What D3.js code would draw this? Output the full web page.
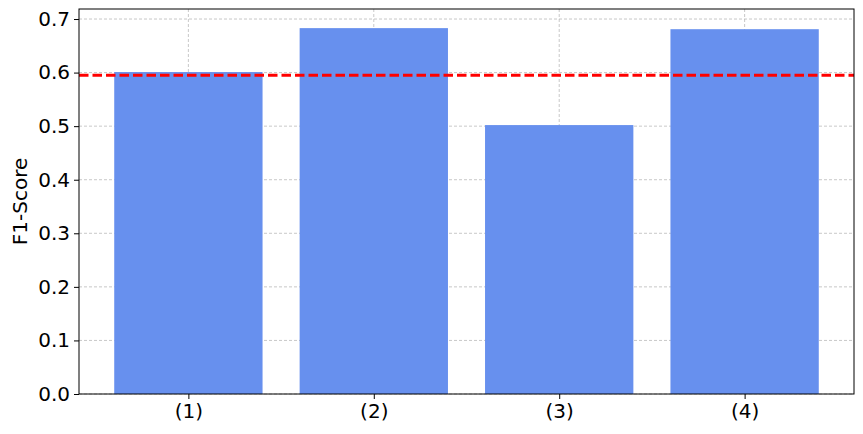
<!DOCTYPE html>
<html>
<head>
<meta charset="utf-8">
<script src="https://cdn.jsdelivr.net/npm/d3@7"></script>
<style>
  body { margin: 0; background: #fff; }
  svg { display: block; font-family: "DejaVu Sans", sans-serif; }
  svg text { font-size: 20px; fill: #000; font-family: "DejaVu Sans", sans-serif; }
</style>
</head>
<body>
<svg id="chart"></svg>
<script>
let categories = ["(1)", "(2)", "(3)", "(4)"];
let scores = [0.601, 0.683, 0.502, 0.681];
let baseline = 0.595;
let yTicks = [0.0, 0.1, 0.2, 0.3, 0.4, 0.5, 0.6, 0.7];

let width = 863;
let height = 434;
let margin = { top: 9, bottom: 40, left: 79, right: 9 };

let svg = d3.select("#chart")
    .attr("width", width)
    .attr("height", height);

// index-based x so bars sit like matplotlib's (width 0.8, 5% margins)
let xScale = d3.scaleLinear()
    .domain([-0.59, 3.59])
    .range([margin.left, width - margin.right]);
let yScale = d3.scaleLinear()
    .domain([0, 0.7187])
    .range([height - margin.bottom, margin.top]);

let barColor = "#6790ee";

// grid behind the bars
let grid = svg.append("g");
grid.selectAll(".hgrid").data(yTicks)
    .enter().append("line")
    .attr("x1", margin.left)
    .attr("x2", width - margin.right)
    .attr("y1", d => yScale(d))
    .attr("y2", d => yScale(d))
    .attr("stroke", "#b0b0b0")
    .attr("stroke-width", 0.7)
    .attr("stroke-dasharray", "3,2");
grid.selectAll(".vgrid").data(categories)
    .enter().append("line")
    .attr("x1", (d, i) => xScale(i))
    .attr("x2", (d, i) => xScale(i))
    .attr("y1", margin.top)
    .attr("y2", height - margin.bottom)
    .attr("stroke", "#b0b0b0")
    .attr("stroke-width", 0.7)
    .attr("stroke-dasharray", "3,2");

svg.append("g").selectAll("rect")
    .data(scores)
    .enter().append("rect")
    .attr("x", (d, i) => xScale(i - 0.4))
    .attr("width", xScale(0.4) - xScale(-0.4))
    .attr("y", d => yScale(d))
    .attr("height", d => yScale(0) - yScale(d))
    .attr("fill", barColor);

// reference line
svg.append("line")
    .attr("x1", margin.left)
    .attr("x2", width - margin.right)
    .attr("y1", yScale(baseline))
    .attr("y2", yScale(baseline))
    .attr("stroke", "red")
    .attr("stroke-width", 2.8)
    .attr("stroke-dasharray", "9.5,4");

// frame
svg.append("rect")
    .attr("x", margin.left)
    .attr("y", margin.top)
    .attr("width", width - margin.left - margin.right)
    .attr("height", height - margin.top - margin.bottom)
    .attr("fill", "none")
    .attr("stroke", "#000")
    .attr("stroke-width", 1);

let yAxis = svg.append("g")
    .attr("transform", `translate(${margin.left},0)`)
    .call(d3.axisLeft(yScale).tickValues(yTicks).tickFormat(d3.format(".1f")).tickSize(5).tickPadding(4));
let xAxis = svg.append("g")
    .attr("transform", `translate(0,${height - margin.bottom})`)
    .call(d3.axisBottom(xScale).tickValues([0, 1, 2, 3]).tickFormat(i => categories[i]).tickSize(5).tickPadding(5));

[yAxis, xAxis].forEach(a => {
    a.attr("font-size", null).attr("font-family", null);
    a.select(".domain").remove();
    a.selectAll("line").attr("stroke", "#000");
});

svg.append("text")
    .attr("transform", `translate(27,${(margin.top + height - margin.bottom) / 2}) rotate(-90)`)
    .attr("text-anchor", "middle")
    .text("F1-Score");
</script>
</body>
</html>
